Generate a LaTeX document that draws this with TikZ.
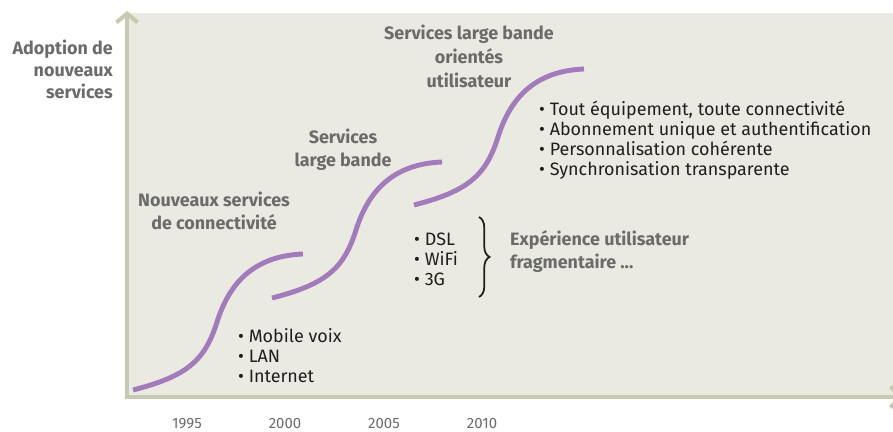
\documentclass[tikz,border=0pt]{standalone}
\usepackage{fontspec}
\setmainfont{Fira Sans}
\usepackage{tikz}
\usetikzlibrary{arrows.meta, decorations.pathreplacing}
\definecolor{panel}  {HTML}{EBEAE2}
\definecolor{axis}   {HTML}{C9C8B0}
\definecolor{growth} {HTML}{A27BBB}
\definecolor{ink}    {HTML}{1E1E1E}
\definecolor{muted}  {HTML}{6B6B6B}

\tikzset{
  phase/.style={text=muted, font=\fontsize{10.2}{13}\selectfont\bfseries, align=center},
  bullets/.style={anchor=west, text=ink, font=\fontsize{10.2}{11.4}\selectfont, align=left},
  year/.style={text=muted, font=\fontsize{8.5}{10}\selectfont}
}

\begin{document}
\begin{tikzpicture}
    \useasboundingbox (0, 0) rectangle (17.86, 8.64);
    \fill[panel] (2.54, 0.70) rectangle (17.86, 8.38);

    % axes
    \draw[axis, line width=2.3pt, -{Straight Barb[length=5pt, width=12pt]}]
      (2.54, 0.66) -- (2.54, 8.42);
    \draw[axis, line width=2.3pt, -{Straight Barb[length=5pt, width=12pt]}]
      (2.50, 0.70) -- (18.04, 0.70);

    % three adoption curves, same shape
    \foreach \sx/\sy in {2.66/0.84, 5.44/2.68, 8.28/4.54}
      \draw[growth, line width=2.8pt, shift={(\sx,\sy)}]
        (0,0) .. controls (1.10,0.28) and (1.44,0.60) .. (1.68,1.36)
              .. controls (1.92,2.12) and (2.40,2.68) .. (3.40,2.72);

    \node[anchor=east, text=muted, align=right,
          font=\fontsize{10.2}{12.5}\selectfont\bfseries] (yaxis) at (2.38, 7.26)
      {Adoption de\\ nouveaux\\ services};

    \node[phase] (connect)  at (4.28, 4.42) {Nouveaux services\\ de connectivit\'e};
    \node[phase] (broad)    at (6.86, 5.64) {Services\\ large bande};
    \node[phase, font=\fontsize{10.2}{13.6}\selectfont\bfseries] (usercentric) at (9.38, 7.52)
      {Services large bande\\ orient\'es\\ utilisateur};

    \node[bullets] (mobile) at (4.64, 1.52)
      {\textbullet\ Mobile voix\\ \textbullet\ LAN\\ \textbullet\ Internet};
    \node[bullets] (dsl) at (8.16, 3.46)
      {\textbullet\ DSL\\ \textbullet\ WiFi\\ \textbullet\ 3G};
    \node[bullets] (features) at (10.66, 5.83)
      {\textbullet\ Tout \'equipement, toute connectivit\'e\\
       \textbullet\ Abonnement unique et authentification\\
       \textbullet\ Personnalisation coh\'erente\\
       \textbullet\ Synchronisation transparente};

    \coordinate (braceTop) at (9.58, 4.30);
    \coordinate (braceBot) at (9.58, 2.70);
    \draw[ink, line width=1pt, decorate, decoration={brace, amplitude=6pt}]
      (braceTop) -- (braceBot);
    \node[anchor=west, phase, align=left] (fragment) at (10.08, 3.61)
      {Exp\'erience utilisateur\\ fragmentaire ...};

    % years along the time axis
    \foreach \x/\yr in {3.74/1995, 5.70/2000, 7.68/2005, 9.64/2010}
      \node[year] (y\yr) at (\x, 0.16) {\yr};
  \end{tikzpicture}
\end{document}
